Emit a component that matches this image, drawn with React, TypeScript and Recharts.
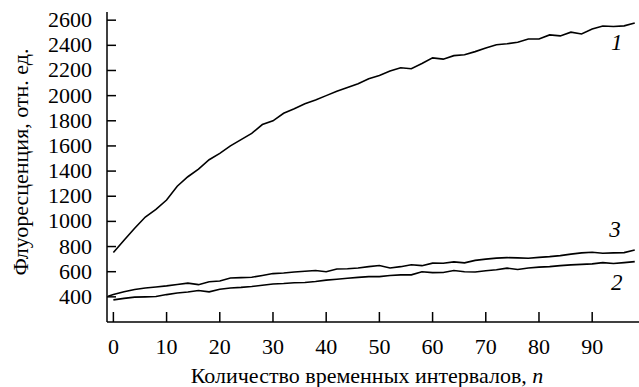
import { LineChart, Line, XAxis, YAxis, ReferenceDot } from "recharts";

// n = number of time intervals
const nValues = [
  -1, 0, 2, 4, 6, 8, 10, 12, 14, 16, 18, 20, 22, 24, 26, 28, 30, 32, 34, 36, 38, 40, 42, 44, 46, 48,
  50, 52, 54, 56, 58, 60, 62, 64, 66, 68, 70, 72, 74, 76, 78, 80, 82, 84, 86, 88, 90, 92, 94, 96, 98,
];

const curve1 = [
  null, 752, 850, 945, 1035, 1095, 1170, 1280, 1355, 1415, 1490, 1541, 1600, 1650, 1700, 1770, 1800,
  1860, 1895, 1935, 1965, 2000, 2035, 2065, 2095, 2135, 2160, 2195, 2222, 2214, 2255, 2300, 2290, 2318,
  2325, 2350, 2378, 2405, 2412, 2425, 2450, 2450, 2483, 2475, 2505, 2490, 2530, 2554, 2550, 2555, 2578,
];

const curve2 = [
  null, 376, 388, 398, 400, 403, 418, 430, 438, 450, 440, 460, 470, 475, 482, 492, 502, 506, 512, 514,
  522, 533, 540, 548, 555, 561, 561, 570, 575, 575, 600, 593, 594, 610, 600, 598, 608, 616, 628, 618,
  630, 636, 640, 648, 654, 658, 662, 672, 665, 672, 680,
];

const curve3 = [
  405, 418, 440, 458, 470, 478, 487, 498, 509, 497, 520, 526, 550, 553, 556, 570, 585, 590, 597, 604,
  609, 600, 621, 624, 629, 640, 649, 630, 640, 655, 648, 668, 667, 678, 670, 690, 700, 708, 712, 710,
  707, 714, 720, 728, 740, 750, 755, 747, 750, 752, 772,
];

const xTicks = [0, 10, 20, 30, 40, 50, 60, 70, 80, 90];
const yTicks = [400, 600, 800, 1000, 1200, 1400, 1600, 1800, 2000, 2200, 2400, 2600];

const curveLabels = [
  { name: "1", n: 94.6, value: 2425 },
  { name: "3", n: 94.3, value: 940 },
  { name: "2", n: 94.6, value: 515 },
];

const data = nValues.map((n, i) => ({
  n,
  c1: curve1[i],
  c2: curve2[i],
  c3: curve3[i],
}));

const FONT = "Liberation Serif";
const serif = { fontFamily: FONT, fontSize: 22 };

const css = `
.fluo-chart, .fluo-chart svg, .fluo-chart text, .fluo-chart tspan {
  font-family: 'Liberation Serif', 'Tinos', 'Times New Roman', serif !important;
}
`;

function XTick(props: any) {
  const { x, y, payload } = props;
  return (
    <g>
      <line x1={x} x2={x} y1={y} y2={y - 10} stroke="#000" strokeWidth={1.5} />
      <text x={x} y={y + 32} textAnchor="middle" style={serif} fill="#000">
        {payload.value}
      </text>
    </g>
  );
}

function YTick(props: any) {
  const { x, y, payload } = props;
  return (
    <g>
      <line x1={x} x2={x + 9} y1={y} y2={y} stroke="#000" strokeWidth={1.5} />
      <text x={x - 15} y={y + 7} textAnchor="end" style={serif} fill="#000">
        {payload.value}
      </text>
    </g>
  );
}

function XLabel(props: any) {
  const vb = props.viewBox;
  return (
    <text x={vb.x + vb.width / 2 - 6} y={vb.y + 61} textAnchor="middle" style={serif} fill="#000">
      Количество временных интервалов, <tspan style={{ fontStyle: "italic" }}>n</tspan>
    </text>
  );
}

function YLabel(props: any) {
  const vb = props.viewBox;
  const cx = 20;
  const cy = vb.y + vb.height / 2 - 5;
  return (
    <text
      x={cx}
      y={cy}
      transform={`rotate(-90 ${cx} ${cy})`}
      textAnchor="middle"
      dominantBaseline="central"
      style={serif}
      fill="#000"
    >
      Флуоресценция, отн. ед.
    </text>
  );
}

function CurveLabel(props: any) {
  const vb = props.viewBox;
  return (
    <text
      x={vb.x}
      y={vb.y + 8}
      textAnchor="middle"
      style={{ ...serif, fontSize: 23, fontStyle: "italic" }}
      fill="#000"
    >
      {props.value}
    </text>
  );
}

export default function App() {
  return (
    <div
      className="fluo-chart"
      style={{ position: "absolute", left: 0, top: 0, background: "#fff", fontFamily: FONT }}
    >
      <style>{css}</style>
      <LineChart
        width={639}
        height={387}
        data={data}
        margin={{ top: 12, right: 0, bottom: 0, left: 47 }}
      >
        <XAxis
          dataKey="n"
          type="number"
          domain={[-1.2, 98.8]}
          ticks={xTicks}
          allowDataOverflow
          height={65}
          tickSize={0}
          tickMargin={0}
          tickLine={false}
          tick={<XTick />}
          axisLine={{ stroke: "#000", strokeWidth: 1.5 }}
          label={<XLabel />}
        />
        <YAxis
          type="number"
          domain={[200, 2665]}
          ticks={yTicks}
          allowDataOverflow
          width={60}
          tickSize={0}
          tickMargin={0}
          tickLine={false}
          tick={<YTick />}
          axisLine={{ stroke: "#000", strokeWidth: 1.5 }}
          label={<YLabel />}
        />
        <Line dataKey="c1" stroke="#000" strokeWidth={1.6} dot={false} isAnimationActive={false} />
        <Line dataKey="c2" stroke="#000" strokeWidth={1.6} dot={false} isAnimationActive={false} />
        <Line dataKey="c3" stroke="#000" strokeWidth={1.6} dot={false} isAnimationActive={false} />
        {curveLabels.map((c) => (
          <ReferenceDot
            key={c.name}
            x={c.n}
            y={c.value}
            r={0}
            stroke="none"
            fill="none"
            label={<CurveLabel value={c.name} />}
          />
        ))}
      </LineChart>
    </div>
  );
}
